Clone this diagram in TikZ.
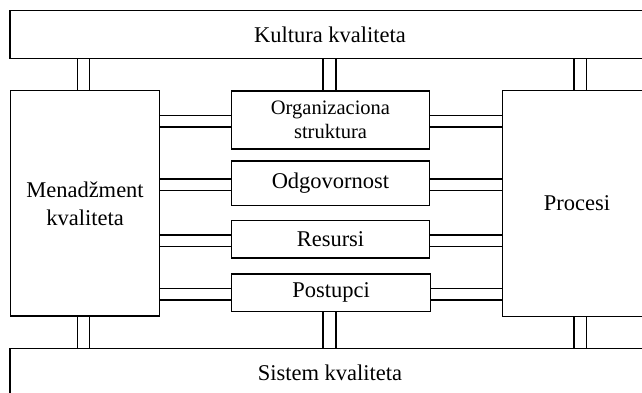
\documentclass[tikz,border=0pt]{standalone}
\usepackage{fontspec}
\setmainfont{Liberation Serif}
\begin{document}
\begin{tikzpicture}[x=1pt,y=-1pt,
  box/.style={draw=black, line width=1.2pt, rectangle, inner sep=0pt, align=center,
    font=\fontsize{22.5}{28}\selectfont},
  link/.style={draw=black, line width=1.5pt}]
\useasboundingbox (0,0) rectangle (642,392);
\clip (0,0) rectangle (642,392);
\node[box, minimum width=640, minimum height=48] (K) at (330,34.7) {Kultura kvaliteta};
\node[box, minimum width=640, minimum height=48] (S) at (330,372.5) {Sistem kvaliteta};
\node[box, minimum width=149.2, minimum height=225.3] (M) at (85,203.4) {Menadžment\\kvaliteta};
\node[box, minimum width=148.6, minimum height=225.8] (P) at (577,203.5) {Procesi};
\node[box, minimum width=198, minimum height=58, font=\fontsize{20.5}{24.5}\selectfont] (O1) at (330.5,120) {Organizaciona\\struktura};
\node[box, minimum width=198, minimum height=44.7] (O2) at (330.5,183.3) {Odgovornost};
\node[box, minimum width=198, minimum height=37.3] (O3) at (330.5,239.4) {Resursi};
\node[box, minimum width=199, minimum height=37.7] (O4) at (331,292.9) {Postupci};
% vertical double links to top and bottom
\foreach \n/\a/\b in {M/-7.7/4.3, O1/-7.5/5.5, P/-3/9.5}{
  \draw[link] ([xshift=\a]\n.north) -- ([xshift=\a]\n.north |- K.south);
  \draw[link] ([xshift=\b]\n.north) -- ([xshift=\b]\n.north |- K.south);
}
\foreach \n/\a/\b in {M/-7.7/4.3, O4/-8/5, P/-3/9.5}{
  \draw[link] ([xshift=\a]\n.south) -- ([xshift=\a]\n.south |- S.north);
  \draw[link] ([xshift=\b]\n.south) -- ([xshift=\b]\n.south |- S.north);
}
% horizontal double links
\foreach \n in {O1,O2,O3,O4}{
  \draw[link] ([yshift=4.5]\n.west) -- ([yshift=4.5]\n.west -| M.east);
  \draw[link] ([yshift=-7]\n.west) -- ([yshift=-7]\n.west -| M.east);
  \draw[link] ([yshift=4.5]\n.east) -- ([yshift=4.5]\n.east -| P.west);
  \draw[link] ([yshift=-7]\n.east) -- ([yshift=-7]\n.east -| P.west);
}
\end{tikzpicture}
\end{document}
